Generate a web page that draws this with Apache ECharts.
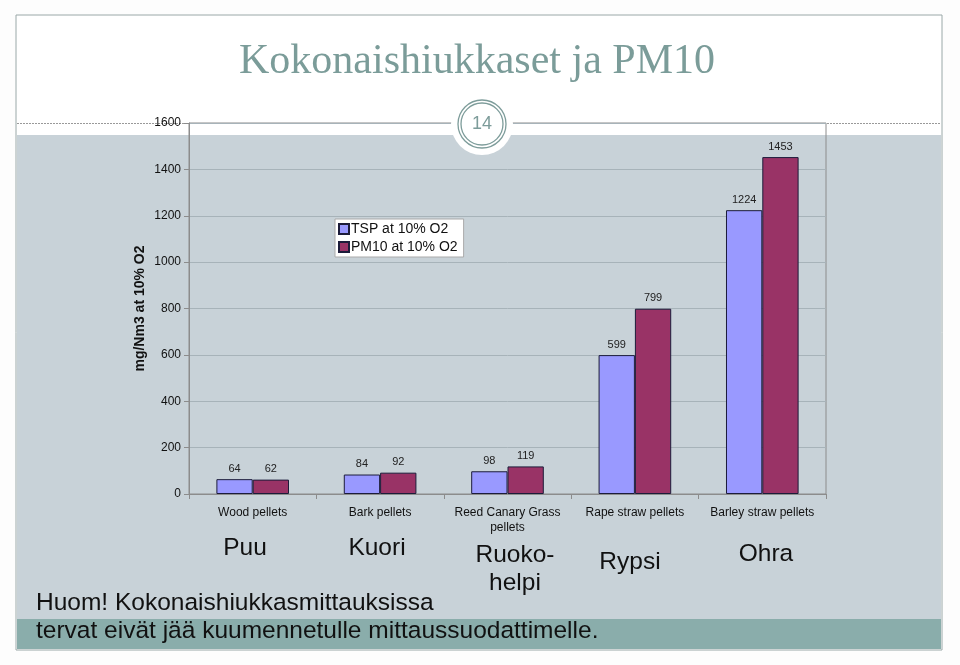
<!DOCTYPE html>
<html><head><meta charset="utf-8">
<script src="https://cdn.jsdelivr.net/npm/echarts@6/dist/echarts.min.js"></script>
<style>html,body{margin:0;padding:0;background:#fff}#c{width:960px;height:665px}</style>
</head><body><div id="c"></div>
<script>
const categories = ['Wood pellets', 'Bark pellets', 'Reed Canary Grass\npellets', 'Rape straw pellets', 'Barley straw pellets'];
const finnishNames = ['Puu', 'Kuori', 'Ruoko-\nhelpi', 'Rypsi', 'Ohra'];
const tspValues = [64, 84, 98, 599, 1224];
const pm10Values = [62, 92, 119, 799, 1453];
const seriesNames = ['TSP at 10% O2', 'PM10 at 10% O2'];
const yTicks = [0, 200, 400, 600, 800, 1000, 1200, 1400, 1600];
const titleText = 'Kokonaishiukkaset ja PM10';
const slideNumber = '14';
const noteLines = ['Huom! Kokonaishiukkasmittauksissa', 'tervat eivät jää kuumennetulle mittaussuodattimelle.'];

const chart = echarts.init(document.getElementById('c'));
const sans = 'Liberation Sans, Arial, sans-serif';
const finnishPos = [[245, 548], [377, 548], [515, 569], [630, 562], [766, 554]];
const finnishGraphics = finnishNames.map((t, i) => ({
  type: 'text', x: finnishPos[i][0], y: finnishPos[i][1], z: 100,
  style: { text: t, font: '24.5px ' + sans, fill: '#111', textAlign: 'center', textVerticalAlign: 'middle', lineHeight: 28 }
}));

chart.setOption({
  backgroundColor: '#fdfdfd',
  animation: false,
  graphic: [
    { type: 'rect', z: -10, shape: { x: 16, y: 15, width: 926, height: 635 }, style: { fill: '#ffffff', stroke: '#9aa8a8', lineWidth: 1 } },
    { type: 'rect', z: -9, shape: { x: 17, y: 135, width: 924, height: 484 }, style: { fill: '#c8d2d8' } },
    { type: 'rect', z: -9, shape: { x: 17, y: 619, width: 924, height: 30 }, style: { fill: '#8aadab' } },
    { type: 'line', z: -8, shape: { x1: 17, y1: 123.5, x2: 941, y2: 123.5 }, style: { stroke: '#999', lineWidth: 1, lineDash: [2, 1] } },
    { type: 'circle', z: 50, shape: { cx: 482, cy: 124, r: 31 }, style: { fill: '#ffffff' } },
    { type: 'circle', z: 51, shape: { cx: 482, cy: 124, r: 24 }, style: { fill: 'none', stroke: '#7d9c9a', lineWidth: 1.3 } },
    { type: 'circle', z: 51, shape: { cx: 482, cy: 124, r: 21 }, style: { fill: 'none', stroke: '#7d9c9a', lineWidth: 1.3 } },
    { type: 'text', z: 52, x: 482, y: 124, style: { text: slideNumber, font: '18px ' + sans, fill: '#7d9c9a', textAlign: 'center', textVerticalAlign: 'middle' } },
    { type: 'text', z: 52, x: 477, y: 62, style: { text: titleText, font: '42px Liberation Serif, Times New Roman, serif', fill: '#7b9c99', textAlign: 'center', textVerticalAlign: 'middle' } },
    { type: 'text', z: 100, x: 36, y: 603, style: { text: noteLines[0], font: '24.5px ' + sans, fill: '#111', textAlign: 'left', textVerticalAlign: 'middle' } },
    { type: 'text', z: 100, x: 36, y: 631, style: { text: noteLines[1], font: '24.5px ' + sans, fill: '#111', textAlign: 'left', textVerticalAlign: 'middle' } }
  ].concat(finnishGraphics),
  legend: {
    show: true, orient: 'vertical', left: 335, top: 219,
    backgroundColor: '#ffffff', borderColor: '#aaa', borderWidth: 1,
    padding: [3, 6, 3, 3], itemGap: 4, itemWidth: 10, itemHeight: 10,
    textStyle: { fontFamily: sans, fontSize: 14, color: '#111', padding: [0, 0, 0, -3] },
    data: seriesNames.map(n => ({ name: n, icon: 'rect' }))
  },
  grid: { left: 189, right: 134, top: 123, bottom: 171, show: true, borderColor: '#8c8c8c', borderWidth: 1, backgroundColor: 'transparent' },
  xAxis: {
    type: 'category', data: categories,
    axisLine: { lineStyle: { color: '#8c8c8c' } },
    axisTick: { show: true, length: 5, lineStyle: { color: '#8c8c8c' } },
    axisLabel: { fontFamily: sans, fontSize: 12, color: '#111', margin: 11, lineHeight: 15, interval: 0 }
  },
  yAxis: {
    type: 'value', min: yTicks[0], max: yTicks[yTicks.length - 1], interval: 200,
    name: 'mg/Nm3 at 10% O2', nameLocation: 'middle', nameGap: 42, nameMoveOverlap: false,
    nameTextStyle: { fontFamily: sans, fontSize: 14, fontWeight: 'bold', color: '#111' },
    axisLine: { show: true, lineStyle: { color: '#8c8c8c' } },
    axisTick: { show: true, length: 5, lineStyle: { color: '#8c8c8c' } },
    axisLabel: { fontFamily: sans, fontSize: 12, color: '#111', margin: 8, formatter: v => String(v) },
    splitLine: { show: true, lineStyle: { color: '#a7b3b9', width: 1 } }
  },
  series: [
    { name: seriesNames[0], type: 'bar', data: tspValues, barGap: '0%', barCategoryGap: '43%',
      itemStyle: { color: '#9999ff', borderColor: '#1c1c3a', borderWidth: 1 },
      label: { show: true, position: 'top', distance: 5, fontFamily: sans, fontSize: 11, color: '#222' } },
    { name: seriesNames[1], type: 'bar', data: pm10Values, barGap: '0%', barCategoryGap: '43%',
      itemStyle: { color: '#993366', borderColor: '#1c1c3a', borderWidth: 1 },
      label: { show: true, position: 'top', distance: 5, fontFamily: sans, fontSize: 11, color: '#222' } }
  ]
});
</script></body></html>
